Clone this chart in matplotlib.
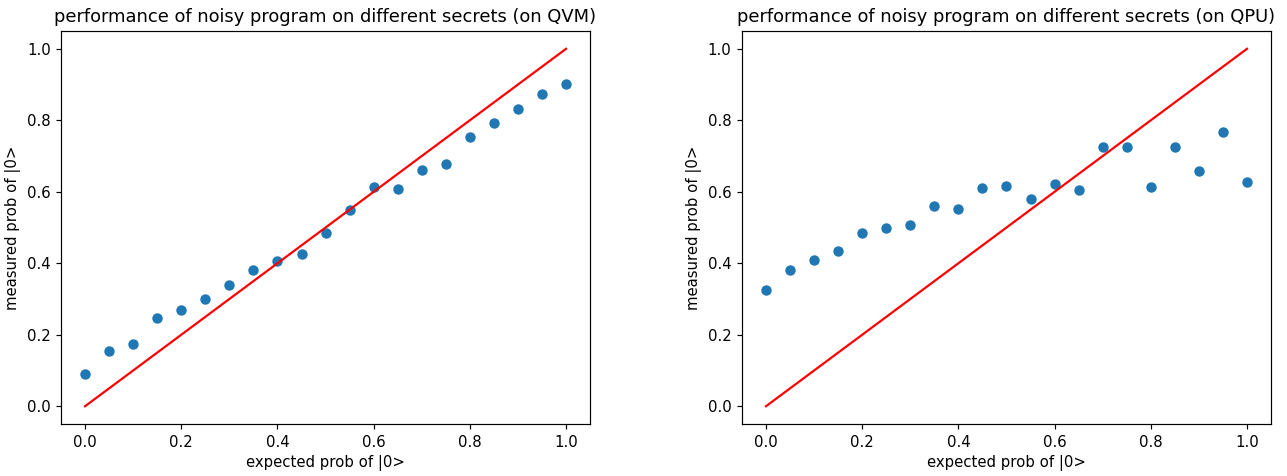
import numpy as np
import matplotlib.pyplot as plt

# expected prob of |0> for each secret
expected = [0.0, 0.05, 0.1, 0.15, 0.2, 0.25, 0.3, 0.35, 0.4, 0.45, 0.5,
            0.55, 0.6, 0.65, 0.7, 0.75, 0.8, 0.85, 0.9, 0.95, 1.0]

# measured on QVM
qvm_measured = [0.090, 0.155, 0.173, 0.247, 0.268, 0.301, 0.340, 0.381, 0.405, 0.426, 0.486,
                0.548, 0.614, 0.607, 0.661, 0.679, 0.753, 0.793, 0.831, 0.873, 0.902]

# measured on QPU
qpu_measured = [0.326, 0.381, 0.408, 0.433, 0.486, 0.500, 0.507, 0.560, 0.551, 0.610, 0.617,
                0.580, 0.622, 0.605, 0.724, 0.724, 0.614, 0.724, 0.658, 0.768, 0.628]

dpi = 107
fig, (ax1, ax2) = plt.subplots(1, 2, figsize=(1287 / dpi, 476 / dpi), dpi=dpi)
fig.subplots_adjust(left=0.0474, right=0.9876, top=0.935, bottom=0.109, wspace=0.287)

ax1.scatter(expected, qvm_measured)
ax1.plot([0, 1], [0, 1], color="r")
ax1.set_title("performance of noisy program on different secrets (on QVM)")
ax1.set_xlabel("expected prob of |0>")
ax1.set_ylabel("measured prob of |0>")

ax2.scatter(expected, qpu_measured)
ax2.plot([0, 1], [0, 1], color="r")
ax2.set_title("performance of noisy program on different secrets (on QPU)")
ax2.set_xlabel("expected prob of |0>")
ax2.set_ylabel("measured prob of |0>")

plt.savefig("out.png", dpi=dpi)
